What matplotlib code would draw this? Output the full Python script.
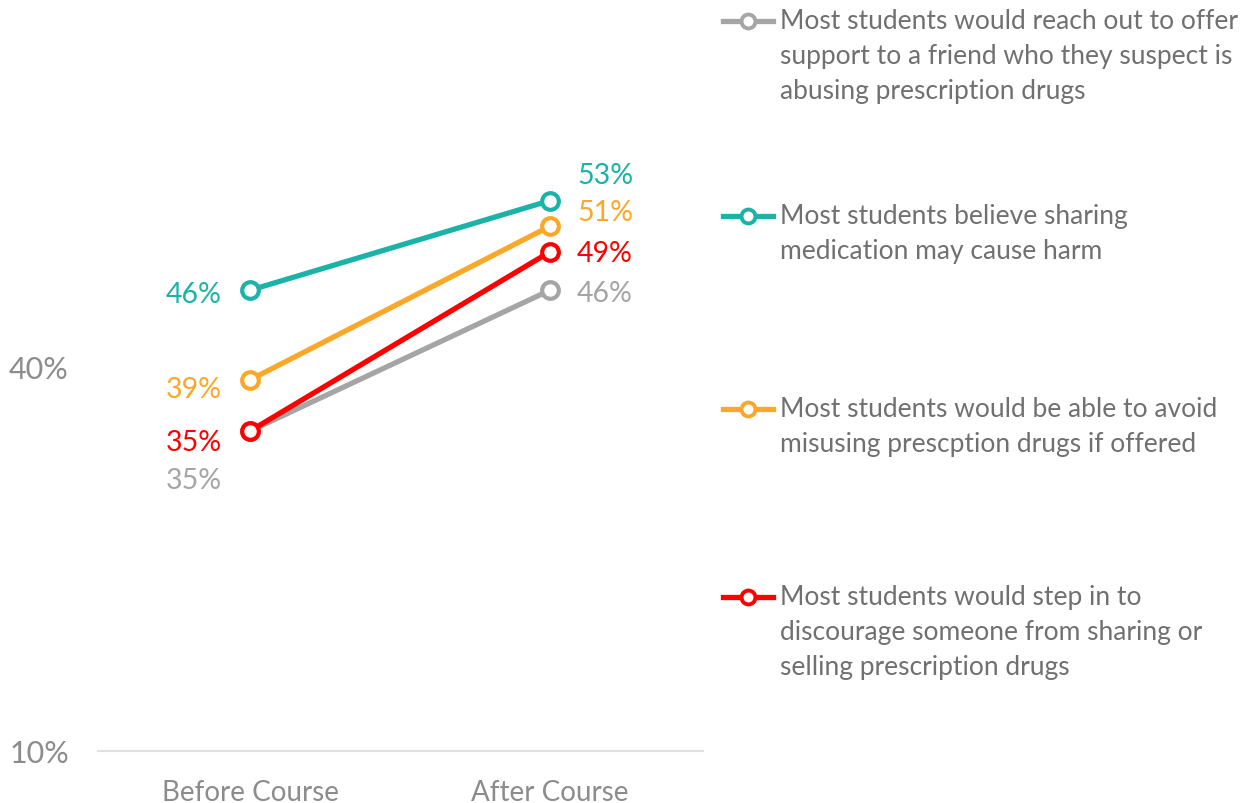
import matplotlib.pyplot as plt
from matplotlib.lines import Line2D

plt.rcParams['font.family'] = ['Lato', 'DejaVu Sans']

stages = ["Before Course", "After Course"]
series_names = [
    "Most students would reach out to offer\nsupport to a friend who they suspect is\nabusing prescription drugs",
    "Most students believe sharing\nmedication may cause harm",
    "Most students would be able to avoid\nmisusing prescption drugs if offered",
    "Most students would step in to\ndiscourage someone from sharing or\nselling prescription drugs",
]
gray_vals = [35, 46]
teal_vals = [46, 53]
orange_vals = [39, 51]
red_vals = [35, 49]
colors = ["#A5A5A5", "#1BB3A7", "#FBA829", "#FF0000"]
all_vals = [gray_vals, teal_vals, orange_vals, red_vals]

# label offsets (pixels) for before / after points
before_off = [(-28, -49), (-28, -4), (-28, -9), (-28, -11)]
after_off = [(27, -3), (27, 26), (27, 14), (27, -1)]

fig = plt.figure(figsize=(12.6, 8.04), dpi=100)
ax = fig.add_axes([98 / 1260, 52 / 804, 605 / 1260, 752 / 804])

x = [0, 1]
for vals, c, bo, ao in zip(all_vals, colors, before_off, after_off):
    ax.plot(x, vals, color=c, lw=3.8, marker='o', ms=12, mfc='white', mec=c, mew=3,
            solid_capstyle='round')
    ax.annotate(f"{vals[0]}%", (0, vals[0]), xytext=bo, textcoords='offset pixels',
                ha='right', va='center', fontsize=20.5, color=c)
    ax.annotate(f"{vals[1]}%", (1, vals[1]), xytext=ao, textcoords='offset pixels',
                ha='left', va='center', fontsize=20.5, color=c)

ax.set_xlim(-0.507, 1.51)
ax.set_ylim(10, 68.75)
ax.set_yticks([10, 40])
ax.set_yticklabels(["10%", "40%"])
ax.set_xticks(x)
ax.set_xticklabels(stages)
for s in ['top', 'right', 'left']:
    ax.spines[s].set_visible(False)
ax.spines['bottom'].set_color('#E0E0E0')
ax.spines['bottom'].set_linewidth(1.5)
ax.tick_params(axis='y', length=0, labelsize=22, labelcolor='#8C8C8C', pad=21)
ax.tick_params(axis='x', length=0, labelsize=20, labelcolor='#8C8C8C', pad=20)

# legend built by hand
starts = [22, 217, 410, 598]
for name, c, y in zip(series_names, colors, starts):
    fy = 1 - y / 804
    fig.add_artist(Line2D([723 / 1260, 773 / 1260], [fy, fy], color=c, lw=3.8,
                          transform=fig.transFigure))
    fig.add_artist(Line2D([748 / 1260], [fy], color=c, marker='o', ms=10, mfc='white',
                          mec=c, mew=2.8, transform=fig.transFigure))
    fig.text(780 / 1260, fy + 13 / 804, name, ha='left', va='top', fontsize=19,
             color='#707070', linespacing=1.5)

fig.savefig("out.png", dpi=100)
